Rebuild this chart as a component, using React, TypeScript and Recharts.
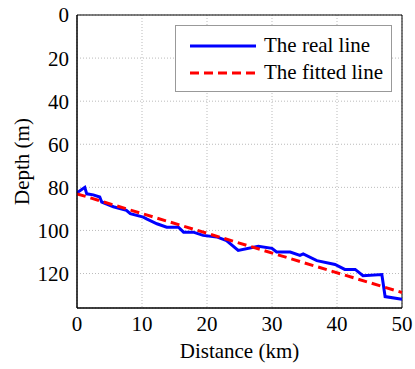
import React from 'react'
import { LineChart, Line, XAxis, YAxis, CartesianGrid, ReferenceArea } from 'recharts'

// distance (km) / depth (m)
const realDist = [0, 1.2, 1.5, 2.5, 3.5, 3.8, 5.6, 7.6, 8.2, 10.2, 10.7, 12.3, 13.8, 15.6, 16.4, 17.9, 19.4, 21.5, 23, 24.8, 27.9, 30, 30.7, 32.8, 34.3, 34.8, 36.9, 39.7, 41.2, 42.8, 44, 46.9, 47.4, 50]
const realDepth = [82.5, 80, 83, 83.5, 84.5, 86.8, 89, 90.7, 92.2, 93.8, 94.6, 96.9, 98.5, 98.5, 100.8, 100.8, 102.3, 103, 104.7, 109.3, 107.4, 108.3, 110, 110, 111.6, 110.9, 114, 115.8, 118.1, 118.1, 121, 120.5, 130.7, 132]

const fittedDist = [0, 50]
const fittedDepth = [83, 128.8]

const xTicks = [0, 10, 20, 30, 40, 50]
const yTicks = [0, 20, 40, 60, 80, 100, 120]

const realData = realDist.map((x, i) => ({ x, y: realDepth[i] }))
const fittedData = fittedDist.map((x, i) => ({ x, y: fittedDepth[i] }))

const font = "'Liberation Serif', 'Times New Roman', serif"
const textStyle = { fontFamily: font }

function LegendBox() {
  return (
    <div
      style={{
        position: 'absolute',
        left: 175,
        top: 25,
        width: 217,
        height: 67,
        border: '1px solid #999',
        background: '#fff',
        fontSize: 21,
        color: '#000',
        boxSizing: 'border-box',
      }}
    >
      <div style={{ display: 'flex', alignItems: 'center', height: 27, marginTop: 6 }}>
        <svg width={88} height={10}>
          <line x1={14} x2={80} y1={5} y2={5} stroke="#0000ff" strokeWidth={3} />
        </svg>
        <span>The real line</span>
      </div>
      <div style={{ display: 'flex', alignItems: 'center', height: 27 }}>
        <svg width={88} height={10}>
          <line x1={14} x2={80} y1={5} y2={5} stroke="#ff0000" strokeWidth={3} strokeDasharray="9 5" />
        </svg>
        <span>The fitted line</span>
      </div>
    </div>
  )
}

export default function App() {
  return (
    <div style={{ position: 'absolute', left: 0, top: 0, width: 415, height: 369, background: '#fff', fontFamily: font }}>
      <LineChart width={415} height={369} margin={{ top: 15, right: 13, left: 27, bottom: 6 }} style={textStyle}>
        <CartesianGrid stroke="#bbb" strokeDasharray="1 2" />
        <XAxis
          type="number"
          dataKey="x"
          domain={[0, 50]}
          ticks={xTicks}
          allowDataOverflow
          tickLine={false}
          stroke="#000"
          height={55}
          tick={{ fill: '#000', fontSize: 21, style: textStyle }}
          label={{ value: 'Distance (km)', position: 'insideBottom', offset: 5, fill: '#000', fontSize: 21, style: textStyle }}
        />
        <YAxis
          type="number"
          dataKey="y"
          domain={[0, 136]}
          ticks={yTicks}
          reversed
          allowDataOverflow
          tickLine={false}
          stroke="#000"
          width={50}
          tick={{ fill: '#000', fontSize: 21, style: textStyle }}
          label={{ value: 'Depth (m)', angle: -90, position: 'insideLeft', offset: -5, textAnchor: 'middle', fill: '#000', fontSize: 21, style: textStyle }}
        />
        <ReferenceArea x1={0} x2={50} y1={0} y2={136} fill="none" stroke="#000" strokeWidth={1} />
        <Line data={realData} dataKey="y" stroke="#0000ff" strokeWidth={3} dot={false} isAnimationActive={false} name="The real line" />
        <Line data={fittedData} dataKey="y" stroke="#ff0000" strokeWidth={3} strokeDasharray="9 5" dot={false} isAnimationActive={false} name="The fitted line" />
      </LineChart>
      <LegendBox />
    </div>
  )
}
